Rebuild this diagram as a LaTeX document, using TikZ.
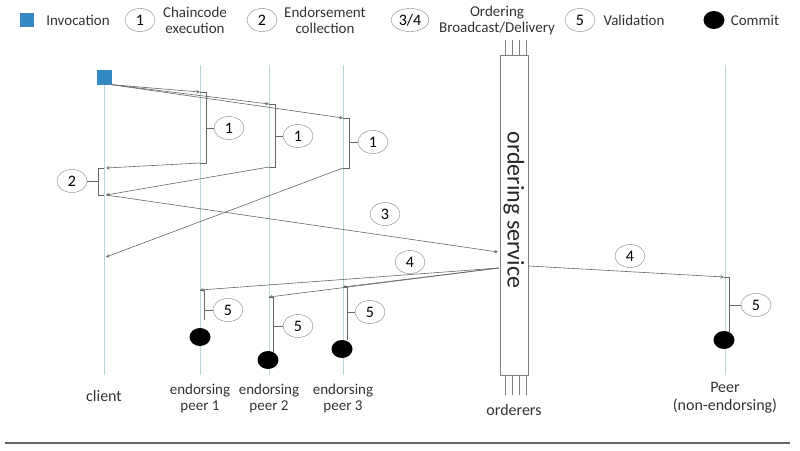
\documentclass[tikz,border=0pt]{standalone}
\usepackage{fontspec}
\setmainfont{Carlito}
\usetikzlibrary{shapes.geometric}
\begin{document}
\begin{tikzpicture}[x=1pt, y=-1pt, font=\fontsize{15}{16}\selectfont]
	\tikzstyle{life}=[draw=blue!25!cyan!30!gray!40, line width=.8pt]
	\tikzstyle{msg}=[draw=black!60, ->, >=stealth, line width=.6pt]
	\tikzstyle{brk}=[draw=black!60, line width=.6pt]
	\tikzstyle{num}=[draw=black!50, ellipse, minimum width=30pt, minimum height=23pt, inner sep=1pt, font=\fontsize{16}{17}\selectfont]
	\tikzstyle{commit}=[fill=black, ellipse, minimum width=21pt, minimum height=18pt, inner sep=0pt]
	\tikzstyle{lbl}=[align=center, text=black!80]
	\useasboundingbox (0,0) rectangle (800,450);
		%========================================================================
		% Legend
		\node[fill=blue!40!cyan!70!black!80, minimum size=14pt, inner sep=0pt] (leginv) at (27,20) {};
		\node[lbl] (leginvt) at (78,20) {Invocation};
		\node[num] (leg1) at (140,20) {1};
		\node[lbl] (leg1t) at (195,20) {Chaincode\\execution};
		\node[num] (leg2) at (262,20) {2};
		\node[lbl] (leg2t) at (325,20) {Endorsement\\collection};
		\node[num, minimum width=38pt] (leg34) at (410,20) {3/4};
		\node[lbl] (leg34t) at (497,20) {Ordering\\Broadcast/Delivery};
		\node[num] (leg5) at (580,20) {5};
		\node[lbl] (leg5t) at (634,20) {Validation};
		\node[commit] (legc) at (714,20) {};
		\node[lbl] (legct) at (755,20) {Commit};
		
		%========================================================================
		% Lifelines
		\draw[life] (104,70) -- (104,375);
		\draw[life] (200,65) -- (200,375);
		\draw[life] (269,65) -- (269,375);
		\draw[life] (343,65) -- (343,375);
		\draw[life] (725,65) -- (725,375);
		\node[lbl, font=\fontsize{16}{17}\selectfont] (client) at (104,396) {client};
		\node[lbl] (ep1) at (200,398) {endorsing\\peer 1};
		\node[lbl] (ep2) at (269,398) {endorsing\\peer 2};
		\node[lbl] (ep3) at (343,398) {endorsing\\peer 3};
		\node[lbl, font=\fontsize{16}{18}\selectfont] (peer) at (725,398) {Peer\\(non-endorsing)};
		\node[lbl, font=\fontsize{16}{17}\selectfont] (ord) at (514,410) {orderers};
		\draw[black!60, line width=1.2pt] (5,443) -- (790,443);
		
		% Ordering service
		\node[draw=black!50, minimum width=28pt, minimum height=320pt, inner sep=0pt] (os) at (514,215) {};
		\node[rotate=-90, font=\fontsize{24}{26}\selectfont, text=black!85] (ost) at (514,210) {ordering service};
		\foreach \x in {505,512,519,526} {
			\draw[black!50] (\x,40) -- (\x,55);
			\draw[black!50] (\x,375) -- (\x,395);
		}
		
		%========================================================================
		% Invocation and execution
		\node[fill=blue!40!cyan!70!black!80, minimum size=15pt, inner sep=0pt] (inv) at (104,77) {};
		\coordinate (p1a) at (200,92);
		\coordinate (p2a) at (269,104);
		\coordinate (p3a) at (343,118);
		\draw[msg] (inv.south east) to (p1a);
		\draw[msg] (inv.south east) to (p2a);
		\draw[msg] (inv.south east) to (p3a);
		\draw[brk] (p1a) -| (206,163) -- (200,163);
		\draw[brk] (p2a) -| (275,167) -- (269,167);
		\draw[brk] (p3a) -| (349,168) -- (343,168);
		\node[num] (e1) at (229,128) {1};
		\node[num] (e2) at (298,136) {1};
		\node[num] (e3) at (373,142) {1};
		\draw[brk] (206,128) -- (e1);
		\draw[brk] (275,136) -- (e2);
		\draw[brk] (349,142) -- (e3);
		
		% Endorsement collection
		\coordinate (c1) at (106,168);
		\coordinate (c2) at (106,195);
		\coordinate (c3) at (106,257);
		\draw[msg] (200,163) to (c1);
		\draw[msg] (269,167) to (c2);
		\draw[msg] (343,168) to (c3);
		\draw[brk] (104,168) -- (98,168) -- (98,195) -- (104,195);
		\node[num] (col) at (72,181) {2};
		\draw[brk] (98,181) -- (col);
		
		% Broadcast
		\coordinate (ob) at (498,252);
		\draw[msg] (c2) to (ob);
		\node[num] (b3) at (385,214) {3};
		
		% Delivery
		\coordinate (od) at (499,268);
		\coordinate (d1) at (200,290);
		\coordinate (d2) at (269,297);
		\coordinate (d3) at (343,287);
		\coordinate (dp) at (724,277);
		\draw[msg] (od) to (d1);
		\draw[msg] (od) to (d2);
		\draw[msg] (od) to (d3);
		\draw[msg] (529,266) to (dp);
		\node[num] (b4) at (410,262) {4};
		\node[num] (b4p) at (630,256) {4};
		
		% Validation and commit
		\node[commit] (k1) at (200,337) {};
		\node[commit] (k2) at (268,360) {};
		\node[commit] (k3) at (342,349) {};
		\node[commit] (kp) at (724,340) {};
		\draw[brk] (d1) -- (204,290) -- (204,320);
		\draw[brk] (d2) -- (273,297) -- (273,352);
		\draw[brk] (d3) -- (347,287) -- (347,340);
		\draw[brk] (dp) -- (729,277) -- (729,333);
		\node[num] (v1) at (228,310) {5};
		\node[num] (v2) at (298,326) {5};
		\node[num] (v3) at (370,312) {5};
		\node[num] (vp) at (756,305) {5};
		\draw[brk] (204,310) -- (v1);
		\draw[brk] (273,326) -- (v2);
		\draw[brk] (347,312) -- (v3);
		\draw[brk] (729,305) -- (vp);
\end{tikzpicture}
\end{document}
